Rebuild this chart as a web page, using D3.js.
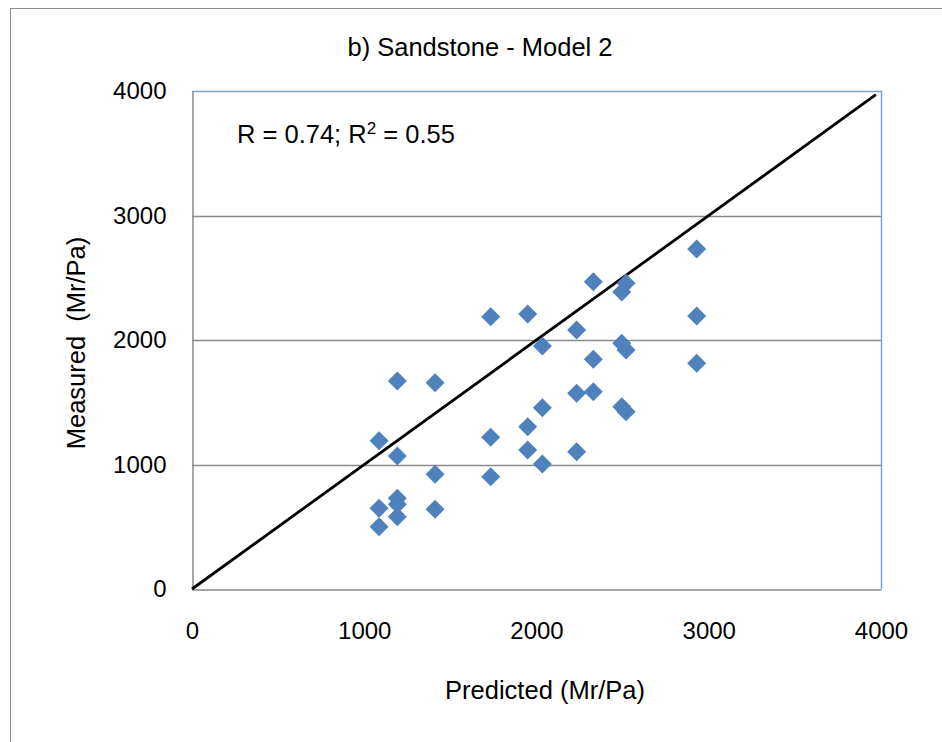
<!DOCTYPE html>
<html>
<head>
<meta charset="utf-8">
<title>Sandstone - Model 2</title>
<script src="https://cdn.jsdelivr.net/npm/d3@7"></script>
<style>
  body { margin: 0; background: #fff; }
  svg text { font-family: "Liberation Sans", Arial, sans-serif; fill: #000; }
</style>
</head>
<body>
<div id="chart"></div>
<script>
// predicted vs measured (Mr/Pa)
var predicted = [1086, 1086, 1086, 1192, 1192, 1192, 1192, 1192,
                 1411, 1411, 1411, 1734, 1734, 1734, 1949, 1949, 1949,
                 2034, 2034, 2034, 2233, 2233, 2233, 2330, 2330, 2330,
                 2495, 2520, 2495, 2520, 2495, 2520, 2930, 2930, 2930];
var measured  = [1191, 648, 500, 1671, 1068, 728, 680, 581,
                 1657, 921, 640, 2187, 1218, 902, 2209, 1304, 1116,
                 1952, 1456, 1004, 2080, 1572, 1103, 2468, 1845, 1585,
                 2385, 2455, 1973, 1920, 1464, 1424, 2731, 2193, 1813];
var ticks = [0, 1000, 2000, 3000, 4000];
var gridTicks = [1000, 2000, 3000];
var lineEnds = [0, 3970];

var width = 942, height = 742;
var plot = {left: 192, top: 91, right: 881, bottom: 589};
var tickFont = "24px";
var labelFont = "25.5px";

var svg = d3.select("#chart").append("svg")
    .attr("width", width)
    .attr("height", height);

// outer chart frame
svg.append("rect")
    .attr("x", 10.5).attr("y", 8.5)
    .attr("width", 940).attr("height", 740)
    .attr("fill", "none")
    .attr("stroke", "#8c8c8c");

var x = d3.scaleLinear().domain([0, 4000]).range([plot.left, plot.right]);
var y = d3.scaleLinear().domain([0, 4000]).range([plot.bottom, plot.top]);

// gridlines
svg.append("g").selectAll("line")
    .data(gridTicks)
    .enter().append("line")
      .attr("x1", plot.left).attr("x2", plot.right)
      .attr("y1", function(d) { return Math.round(y(d)) + 0.5; })
      .attr("y2", function(d) { return Math.round(y(d)) + 0.5; })
      .attr("stroke", "#8a8a8a")
      .attr("stroke-width", 1.5);

// plot area border (top/right blue)
svg.append("path")
    .attr("d", "M" + plot.left + "," + (plot.top + 0.5) + "H" + (plot.right + 0.5) + "V" + plot.bottom)
    .attr("fill", "none")
    .attr("stroke", "#7da3d6")
    .attr("stroke-width", 1.5);

// axes
var xAxis = svg.append("g")
    .attr("transform", "translate(0," + (plot.bottom + 0.5) + ")")
    .call(d3.axisBottom(x).tickValues(ticks).tickFormat(d3.format("d")).tickSize(0).tickPadding(32));
var yAxis = svg.append("g")
    .attr("transform", "translate(" + (plot.left + 0.5) + ",0)")
    .call(d3.axisLeft(y).tickValues(ticks).tickFormat(d3.format("d")).tickSize(0).tickPadding(26));

[xAxis, yAxis].forEach(function(a) {
  a.select(".domain").attr("stroke", "#8a8a8a").attr("stroke-width", 1.5);
  a.selectAll("text")
    .attr("fill", "#000")
    .style("font-size", tickFont)
    .style("font-family", "'Liberation Sans', Arial, sans-serif");
});

// 1:1 line
svg.append("line")
    .attr("x1", x(lineEnds[0])).attr("y1", y(lineEnds[0]))
    .attr("x2", x(lineEnds[1])).attr("y2", y(lineEnds[1]))
    .attr("stroke", "#000")
    .attr("stroke-width", 2.8);

// diamond markers
var r = 9.5;
svg.append("g").selectAll("path")
    .data(predicted)
    .enter().append("path")
      .attr("d", function(d, i) {
        var cx = x(d), cy = y(measured[i]);
        return "M" + cx + "," + (cy - r) + "L" + (cx + r) + "," + cy +
               "L" + cx + "," + (cy + r) + "L" + (cx - r) + "," + cy + "Z";
      })
      .attr("fill", "#4f81bd");

// title
svg.append("text")
    .attr("x", 480).attr("y", 56)
    .attr("text-anchor", "middle")
    .style("font-size", labelFont)
    .text("b) Sandstone - Model 2");

// R annotation
var ann = svg.append("text")
    .attr("x", 237).attr("y", 143)
    .style("font-size", labelFont);
ann.append("tspan").text("R = 0.74; R");
ann.append("tspan").attr("dy", -9).style("font-size", "17px").text("2");
ann.append("tspan").attr("dy", 9).text(" = 0.55");

// axis titles
svg.append("text")
    .attr("x", 545).attr("y", 699)
    .attr("text-anchor", "middle")
    .style("font-size", labelFont)
    .text("Predicted (Mr/Pa)");

svg.append("text")
    .attr("transform", "translate(85,343) rotate(-90)")
    .attr("text-anchor", "middle")
    .style("font-size", labelFont)
    .style("white-space", "pre")
    .text("Measured  (Mr/Pa)");
</script>
</body>
</html>
